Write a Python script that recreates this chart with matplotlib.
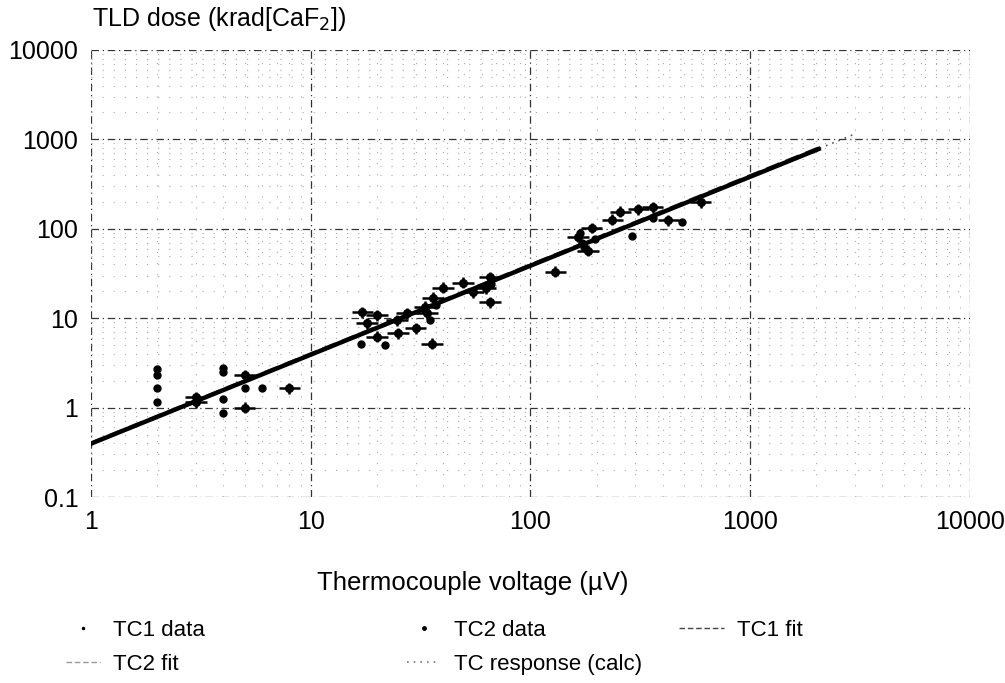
import matplotlib
matplotlib.use("Agg")
import matplotlib.pyplot as plt
from matplotlib.lines import Line2D
import numpy as np

plt.rcParams['font.family'] = ['Liberation Sans', 'DejaVu Sans']

# ---- data ----
tc1_x = [3, 3, 5, 5, 8, 17.2, 20, 18, 20, 24.7, 25, 27.5, 30, 34, 33, 36, 40, 35.6,
         49.5, 65.5, 65.5, 62.5, 55, 130, 165, 183, 190, 236, 257, 310, 360, 425, 595]
tc1_y = [1.15, 1.3, 1.0, 2.3, 1.65, 11.7, 10.8, 8.8, 6.2, 9.5, 6.8, 11.4, 7.7, 11.4, 13.5, 17, 22, 5.2,
         25, 28.7, 15.1, 21.6, 19.5, 33, 81, 57, 102, 126, 155, 165, 175, 125, 199]
tc1_xerr = 0.12
tc1_yerr = 0.15

tc2_x = [2, 2, 2, 2, 4, 4, 4, 4, 5, 6, 17, 21.8, 35, 33, 37, 66, 172, 168, 197, 291, 360, 492, 175]
tc2_y = [1.17, 1.67, 2.3, 2.7, 0.86, 1.26, 2.5, 2.8, 1.67, 1.67, 5.1, 5.0, 9.5, 12.5, 14, 24, 70, 90, 76, 84, 132, 119, 62]

fit_x = [1, 2050]
tc1_fit_y = [0.395, 780]
tc2_fit_y = [0.40, 800]
calc_x = [1, 3000]
calc_y = [0.39, 1150]

fig = plt.figure(figsize=(10.05, 6.83), dpi=100)
ax = fig.add_axes([0.0905, 0.2723, 0.8745, 0.6545])
ax.set_xscale('log')
ax.set_yscale('log')
ax.set_xlim(1, 10000)
ax.set_ylim(0.1, 10000)

ax.grid(True, which='major', color='#333333', linestyle=(0, (6, 3, 1, 3)), linewidth=0.9)
ax.grid(True, which='minor', color='#aaaaaa', linestyle=(0, (1, 9)), linewidth=0.8)
for s in ax.spines.values():
    s.set_visible(False)
ax.tick_params(which='both', length=0, labelsize=18, pad=9)
ax.set_xticks([1, 10, 100, 1000, 10000])
ax.set_xticklabels(['1', '10', '100', '1000', '10000'])
ax.set_yticks([0.1, 1, 10, 100, 1000, 10000])
ax.set_yticklabels(['0.1', '1', '10', '100', '1000', '10000'])

# fits
ax.plot(calc_x, calc_y, color='#555555', linestyle=(0, (1, 3)), linewidth=1.2)
ax.plot(fit_x, tc2_fit_y, color='#444444', linestyle=(0, (4, 2)), linewidth=2.5)
ax.plot(fit_x, tc1_fit_y, color='black', linestyle='-', linewidth=3.2)

# data
tx = np.array(tc1_x); ty = np.array(tc1_y)
ax.errorbar(tx, ty, xerr=[tx - tx / (1 + tc1_xerr), tx * tc1_xerr],
            yerr=[ty - ty / (1 + tc1_yerr), ty * tc1_yerr],
            fmt='o', color='black', markersize=5.5, elinewidth=1.8, capsize=0)
ax.plot(tc2_x, tc2_y, 'o', color='black', markersize=5, linestyle='none')

fig.text(0.092, 0.972, 'TLD dose (krad[CaF$_2$])', fontsize=18, va='center', ha='left')
fig.text(0.470, 0.146, 'Thermocouple voltage (\u00b5V)', fontsize=18.5, va='center', ha='center')

# legend entries
def entry(x, y, handle, label, hl=1.5):
    fig.legend([handle], [label], loc='center left', bbox_to_anchor=(x, y),
               frameon=False, prop={'size': 16},
               handlelength=hl, handletextpad=0.6, borderpad=0, borderaxespad=0)

entry(0.066, 0.077, Line2D([], [], marker='.', color='black', markersize=3, linestyle='none'), 'TC1 data')
entry(0.405, 0.077, Line2D([], [], marker='.', color='black', markersize=5, linestyle='none'), 'TC2 data')
entry(0.676, 0.077, Line2D([], [], color='#444444', linestyle=(0, (4, 2)), linewidth=1), 'TC1 fit', hl=2.0)
entry(0.066, 0.027, Line2D([], [], color='#999999', linestyle=(0, (4, 2)), linewidth=1), 'TC2 fit')
entry(0.405, 0.027, Line2D([], [], color='#777777', linestyle=(0, (1, 3)), linewidth=1.2), 'TC response (calc)')

fig.savefig('out.png', dpi=100)
